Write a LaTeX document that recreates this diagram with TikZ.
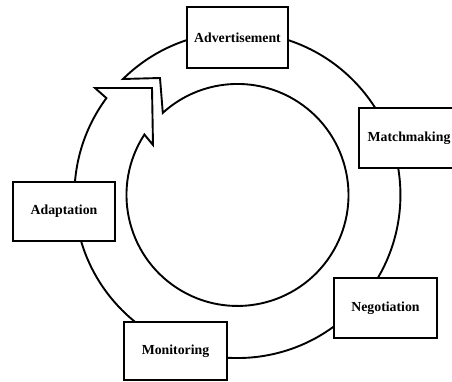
\documentclass[tikz,border=0pt]{standalone}
\usepackage{fontspec}
\setmainfont{Liberation Serif}
\begin{document}
\begin{tikzpicture}[x=1pt,y=1pt,
  ring/.style={line width=1.9pt, line join=miter},
  stage/.style={draw, line width=2pt, fill=white, inner sep=0pt,
    font=\bfseries\fontsize{13.8}{16}\selectfont}]
\useasboundingbox (0,0) rectangle (452,381);

% circular band arrow running clockwise, head meeting the notched tail at upper left
\draw[ring] (123,302)
  arc[start angle=134.6, end angle=-216.5, radius=163pt]
  -- (95,293) -- (152,293) -- (153,236) -- (144.4,246.5)
  arc[start angle=-213, end angle=132.3, radius=111pt]
  -- (160,303) -- cycle;

% stages of the cycle
\node[stage, minimum width=101pt, minimum height=61pt] (adv)   at (237.5,343.5) {Advertisement};
\node[stage, minimum width=100pt, minimum height=60pt] (match) at (409,243)     {Matchmaking};
\node[stage, minimum width=103pt, minimum height=60pt] (neg)   at (385.5,73)    {Negotiation};
\node[stage, minimum width=103pt, minimum height=58pt] (mon)   at (175.5,30)    {Monitoring};
\node[stage, minimum width=102pt, minimum height=59pt] (adapt) at (64,169.5)    {Adaptation};
\end{tikzpicture}
\end{document}
